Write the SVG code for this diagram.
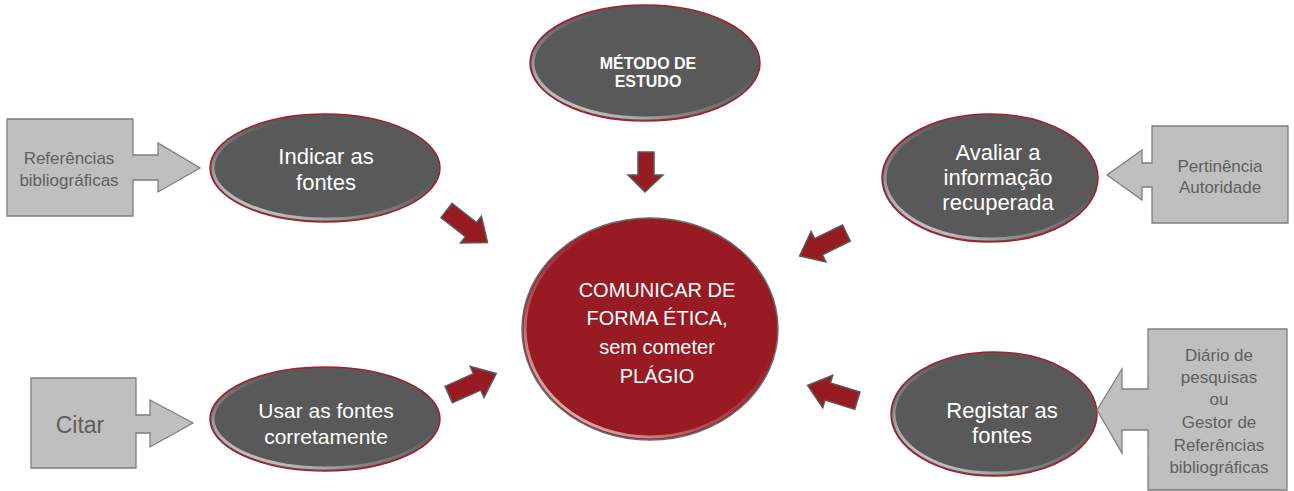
<svg xmlns="http://www.w3.org/2000/svg" width="1294" height="491" viewBox="0 0 1294 491">
<defs>
<style>
.dark{fill:#595959;stroke:#A3202C;stroke-width:1.5}
.core{fill:#981B23;stroke:#6B6B6B;stroke-width:1.5}
.hl{fill:none;stroke:url(#hlg);stroke-width:3}
.box{fill:#BFBFBF;stroke:#7F7F7F;stroke-width:1.3}
.arr{fill:#981B22;stroke:#5A5A5A;stroke-width:1.5;stroke-linejoin:miter}
.wt{font-family:"Liberation Sans",Arial,sans-serif;fill:#FFFFFF;text-anchor:middle}
.gt{font-family:"Liberation Sans",Arial,sans-serif;fill:#5F5F5F;text-anchor:middle;font-size:17px}
.big{font-size:23px}
</style>
<linearGradient id="hlg" x1="0" y1="1" x2="0.6" y2="0.3">
<stop offset="0" stop-color="#FFFFFF" stop-opacity="0.9"/>
<stop offset="0.5" stop-color="#FFFFFF" stop-opacity="0.25"/>
<stop offset="1" stop-color="#FFFFFF" stop-opacity="0"/>
</linearGradient>
<polygon id="arrow" points="-26,-9 5,-9 5,-17 26,0 5,17 5,9 -26,9"/>
</defs>

<g id="connectors">
<use href="#arrow" class="arr" transform="translate(467,226.5) rotate(38)"/>
<use href="#arrow" class="arr" transform="translate(472.5,384) rotate(-24)"/>
<use href="#arrow" class="arr" transform="translate(823,244.5) rotate(154)"/>
<use href="#arrow" class="arr" transform="translate(832.5,393) rotate(197)"/>
<polygon class="arr" points="638,152 654,152 654,175 663,175 645,192 628,175 638,175"/>
</g>

<g id="node-metodo">
<ellipse class="dark" cx="645" cy="63" rx="115" ry="58"/>
<ellipse class="hl" cx="645" cy="63" rx="112" ry="55"/>
<text class="wt" font-size="16" font-weight="bold" x="648" y="69">MÉTODO DE</text>
<text class="wt" font-size="16" font-weight="bold" x="648" y="87">ESTUDO</text>
</g>

<g id="node-indicar">
<ellipse class="dark" cx="325" cy="168" rx="115" ry="54"/>
<ellipse class="hl" cx="325" cy="168" rx="112" ry="51"/>
<text class="wt" font-size="22" x="326" y="164">Indicar as</text>
<text class="wt" font-size="22" x="326" y="190">fontes</text>
</g>

<g id="node-avaliar">
<ellipse class="dark" cx="990" cy="178" rx="108" ry="64"/>
<ellipse class="hl" cx="990" cy="178" rx="105" ry="61"/>
<text class="wt" font-size="22" x="998" y="160">Avaliar a</text>
<text class="wt" font-size="22" x="998" y="185">informação</text>
<text class="wt" font-size="22" x="998" y="210">recuperada</text>
</g>

<g id="node-central">
<ellipse class="core" cx="650" cy="329" rx="128" ry="111"/>
<ellipse class="hl" cx="650" cy="329" rx="125" ry="108"/>
<text class="wt" font-size="20" x="657" y="297">COMUNICAR DE</text>
<text class="wt" font-size="20" x="657" y="325">FORMA ÉTICA,</text>
<text class="wt" font-size="20" x="657" y="354">sem cometer</text>
<text class="wt" font-size="20" x="657" y="383">PLÁGIO</text>
</g>

<g id="node-usar">
<ellipse class="dark" cx="325" cy="419" rx="115" ry="52"/>
<ellipse class="hl" cx="325" cy="419" rx="112" ry="49"/>
<text class="wt" font-size="21" x="326" y="418">Usar as fontes</text>
<text class="wt" font-size="21" x="326" y="444">corretamente</text>
</g>

<g id="node-registar">
<ellipse class="dark" cx="994" cy="414" rx="103" ry="62"/>
<ellipse class="hl" cx="994" cy="414" rx="100" ry="59"/>
<text class="wt" font-size="22" x="1002" y="418">Registar as</text>
<text class="wt" font-size="22" x="1002" y="443">fontes</text>
</g>

<g id="box-referencias">
<polygon class="box" points="7,119 133,119 133,155 158,155 158,143 200,168 158,192 158,180 133,180 133,216 7,216"/>
<text class="gt" x="69" y="164">Referências</text>
<text class="gt" x="69" y="186">bibliográficas</text>
</g>

<g id="box-pertinencia">
<polygon class="box" points="1152,126 1288,126 1288,223 1152,223 1152,187 1142,187 1142,200 1107,175 1142,150 1142,163 1152,163"/>
<text class="gt" x="1220" y="172">Pertinência</text>
<text class="gt" x="1220" y="193">Autoridade</text>
</g>

<g id="box-citar">
<polygon class="box" points="31,378 136,378 136,415 150,415 150,400 193,423 150,447 150,433 136,433 136,468 31,468"/>
<text class="gt big" x="80" y="433">Citar</text>
</g>

<g id="box-diario">
<polygon class="box" points="1148,329 1287,329 1287,490 1148,490 1148,430 1122,430 1122,453 1097,410 1122,369 1122,389 1148,389"/>
<text class="gt" x="1219" y="361">Diário de</text>
<text class="gt" x="1219" y="383">pesquisas</text>
<text class="gt" x="1219" y="405">ou</text>
<text class="gt" x="1219" y="428">Gestor de</text>
<text class="gt" x="1219" y="451">Referências</text>
<text class="gt" x="1219" y="473">bibliográficas</text>
</g>
</svg>
